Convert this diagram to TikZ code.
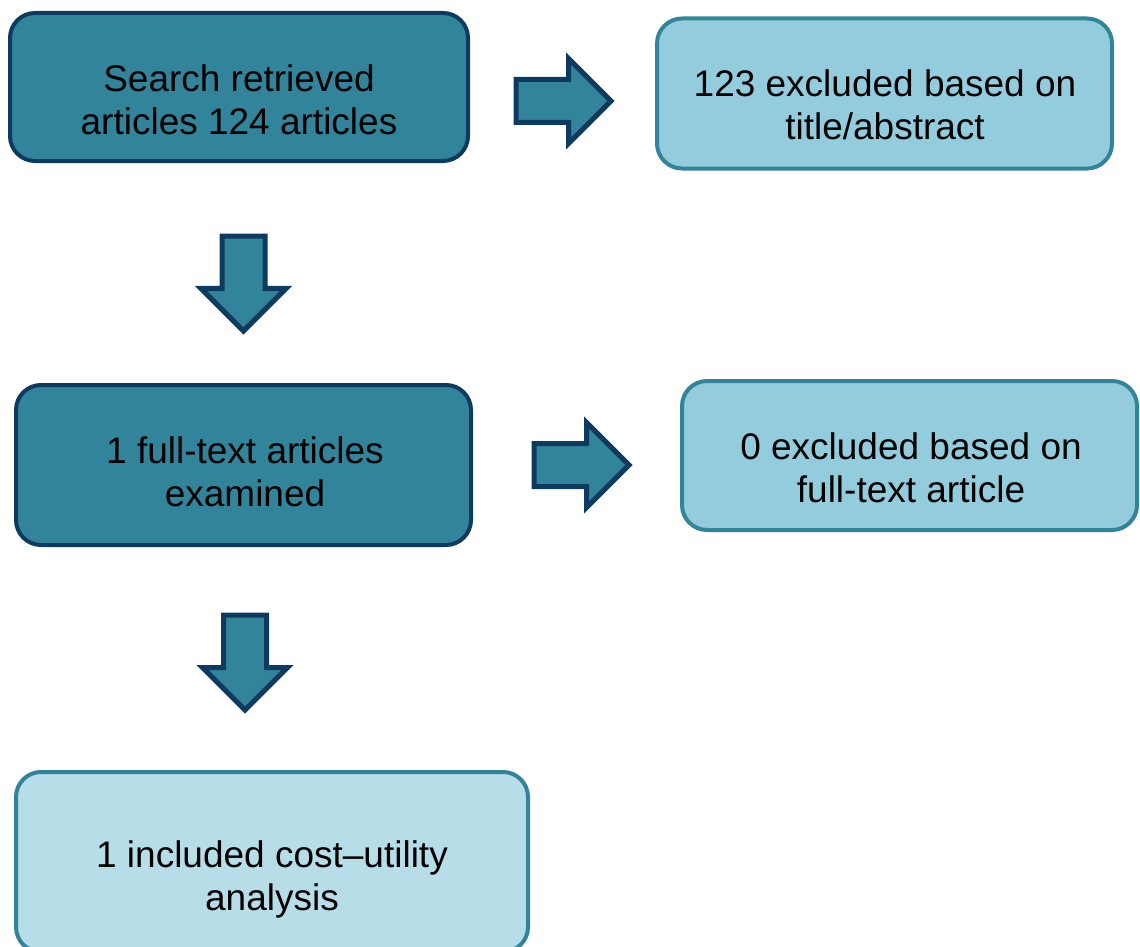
\documentclass[tikz,border=0pt]{standalone}
\usepackage{fontspec}
\setmainfont{Liberation Sans}
\usetikzlibrary{shapes.arrows}
\definecolor{tealdark}{HTML}{32849B}
\definecolor{navyline}{HTML}{0D3B60}
\definecolor{tealmid}{HTML}{93CDDD}
\definecolor{teallight}{HTML}{B7DEE8}
\begin{document}
\begin{tikzpicture}[x=1pt,y=-1pt,
	box/.style={rounded corners=25pt, line width=4pt, inner sep=0pt, outer sep=0pt},
	darkbox/.style={box, draw=navyline, fill=tealdark},
	midbox/.style={box, draw=tealdark, fill=tealmid},
	lightbox/.style={box, draw=tealdark, fill=teallight},
	txt/.style={align=center, inner sep=0pt, font=\fontsize{37}{43}\selectfont},
	blockarrow/.style={single arrow, draw=navyline, fill=tealdark, line width=5pt,
		minimum height=95pt, single arrow head extend=21pt, outer sep=0pt, anchor=tip},
	rightarrow/.style={blockarrow, inner xsep=0pt, inner ysep=19pt},
	downarrow/.style={blockarrow, shape border rotate=270, inner xsep=19pt, inner ysep=0pt}]
	\useasboundingbox (0,0) rectangle (1140,947);
	\clip (0,0) rectangle (1140,947);
	% boxes
	\node[darkbox, minimum width=458pt, minimum height=148pt] (search) at (239,87) {};
	\node[midbox, minimum width=455pt, minimum height=150pt] (titleout) at (884.5,93.5) {};
	\node[darkbox, minimum width=455pt, minimum height=160pt] (fulltext) at (243.5,465) {};
	\node[midbox, minimum width=455pt, minimum height=149pt] (fullout) at (909.5,455.5) {};
	\node[lightbox, minimum width=512pt, minimum height=180pt] (included) at (272,862) {};
	% texts
	\node[txt] (searchtxt) at (239,100) {Search retrieved\\articles 124 articles};
	\node[txt] (titleouttxt) at (885,105) {123 excluded based on\\title/abstract};
	\node[txt] (fulltexttxt) at (245,471.5) {1 full-text articles\\examined};
	\node[txt] (fullouttxt) at (911,468) {0 excluded based on\\full-text article};
	\node[txt] (includedtxt) at (272,879) {1 included cost--utility\\analysis};
	% block arrows, placed by their tips
	\foreach \n/\x/\y in {right1/611/101, right2/629/465}{
		\node[rightarrow] (\n) at (\x,\y) {};
	}
	\foreach \n/\x/\y in {down1/243.5/331, down2/245/710}{
		\node[downarrow] (\n) at (\x,\y) {};
	}
\end{tikzpicture}
\end{document}
